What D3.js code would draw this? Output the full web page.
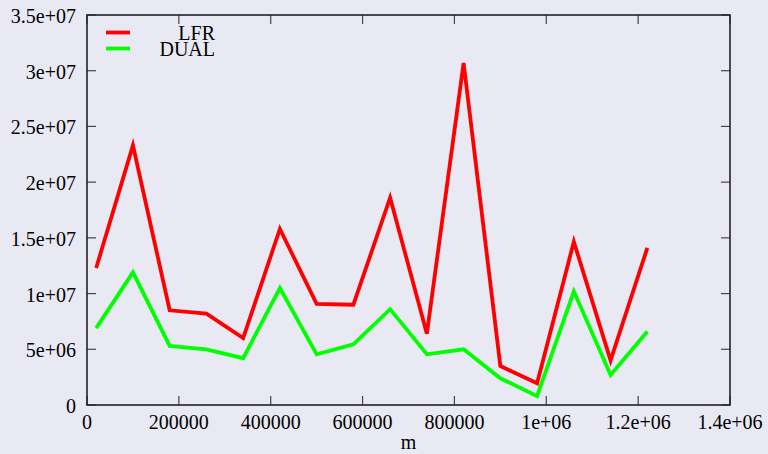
<!DOCTYPE html>
<html>
<head>
<meta charset="utf-8">
<script src="https://cdn.jsdelivr.net/npm/d3@7"></script>
<style>
html,body{margin:0;padding:0;background:#e9e9f3;}
svg{display:block;}
text{font-family:"Liberation Serif","Times New Roman","DejaVu Serif",serif;fill:#000;}
</style>
</head>
<body>
<svg id="chart" width="768" height="454"></svg>
<script>
const mValues = [20000,100000,180000,260000,340000,420000,500000,580000,660000,740000,820000,900000,980000,1060000,1140000,1220000];
const lfrValues = [12.3e6,23.3e6,8.5e6,8.2e6,6.0e6,15.8e6,9.07e6,9.0e6,18.6e6,6.4e6,30.7e6,3.5e6,1.95e6,14.65e6,4.0e6,14.1e6];
const dualValues = [6.9e6,11.9e6,5.3e6,5.0e6,4.2e6,10.5e6,4.55e6,5.45e6,8.6e6,4.55e6,5.0e6,2.4e6,0.8e6,10.2e6,2.7e6,6.6e6];
const xTickValues = [0,200000,400000,600000,800000,1000000,1200000,1400000];
const xTickLabels = ["0","200000","400000","600000","800000","1e+06","1.2e+06","1.4e+06"];
const yTickValues = [0,5e6,10e6,15e6,20e6,25e6,30e6,35e6];
const yTickLabels = ["0","5e+06","1e+07","1.5e+07","2e+07","2.5e+07","3e+07","3.5e+07"];
const seriesNames = ["LFR","DUAL"];
const seriesColors = ["#ff0000","#00ff00"];

const svg = d3.select("#chart");
const L = 87, R = 730, T = 15, B = 405;
const x = d3.scaleLinear().domain([0,1400000]).range([L,R]);
const y = d3.scaleLinear().domain([0,35e6]).range([B,T]);
const fs = 20;

// ticks (mirrored, inward)
const tickColor = "#444";
const gt = svg.append("g").attr("stroke",tickColor).attr("stroke-width",1.2);
xTickValues.forEach(v=>{
  gt.append("line").attr("x1",x(v)).attr("x2",x(v)).attr("y1",B).attr("y2",B-9);
  gt.append("line").attr("x1",x(v)).attr("x2",x(v)).attr("y1",T).attr("y2",T+9);
});
yTickValues.forEach(v=>{
  gt.append("line").attr("x1",L).attr("x2",L+9).attr("y1",y(v)).attr("y2",y(v));
  gt.append("line").attr("x1",R).attr("x2",R-9).attr("y1",y(v)).attr("y2",y(v));
});

// tick labels
xTickValues.forEach((v,i)=>{
  svg.append("text").attr("x",x(v)).attr("y",B+24).attr("text-anchor","middle")
    .attr("font-size",fs).text(xTickLabels[i]);
});
yTickValues.forEach((v,i)=>{
  svg.append("text").attr("x",L-11).attr("y",y(v)+8).attr("text-anchor","end")
    .attr("font-size",fs).text(yTickLabels[i]);
});

// axis label
svg.append("text").attr("x",(L+R)/2).attr("y",449).attr("text-anchor","middle")
  .attr("font-size",fs).text("m");

// lines
const line = d3.line().x(d=>x(d[0])).y(d=>y(d[1]));
[lfrValues,dualValues].forEach((vals,k)=>{
  svg.append("path").datum(mValues.map((m,i)=>[m,vals[i]]))
    .attr("d",line).attr("fill","none").attr("stroke",seriesColors[k])
    .attr("stroke-width",3.8).attr("stroke-linejoin","miter");
});

// border
svg.append("rect").attr("x",L).attr("y",T).attr("width",R-L).attr("height",B-T)
  .attr("fill","none").attr("stroke","#222").attr("stroke-width",1.6);

// legend
const legY = [32.5,48.5];
const legTextY = [40,56];
seriesNames.forEach((n,k)=>{
  svg.append("line").attr("x1",106).attr("x2",130).attr("y1",legY[k]).attr("y2",legY[k])
    .attr("stroke",seriesColors[k]).attr("stroke-width",3.8);
  svg.append("text").attr("x",215).attr("y",legTextY[k]).attr("text-anchor","end")
    .attr("font-size",fs).text(n);
});
</script>
</body>
</html>
